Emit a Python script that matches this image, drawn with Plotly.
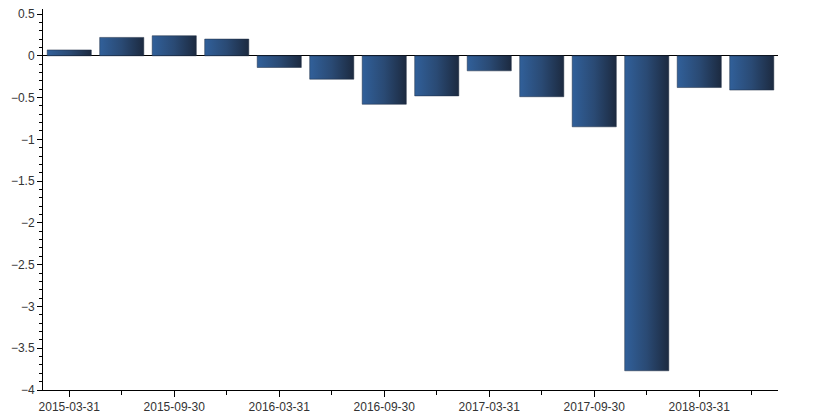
import plotly.graph_objects as go

dates = ["2015-03-31", "2015-06-30", "2015-09-30", "2015-12-31",
         "2016-03-31", "2016-06-30", "2016-09-30", "2016-12-31",
         "2017-03-31", "2017-06-30", "2017-09-30", "2017-12-31",
         "2018-03-31", "2018-06-30"]
values = [0.07, 0.22, 0.24, 0.20, -0.14, -0.28, -0.58, -0.48,
          -0.18, -0.49, -0.85, -3.77, -0.38, -0.41]

half_w = 0.42
grad = [[0, "#31609a"], [0.5, "#2a4a74"], [1, "#1c2a40"]]

fig = go.Figure()
for i, v in enumerate(values):
    xs = [i - half_w, i + half_w, i + half_w, i - half_w, i - half_w]
    ys = [0, 0, v, v, 0]
    fig.add_trace(go.Scatter(
        x=xs, y=ys, mode="lines", fill="toself",
        line=dict(width=0.5, color="#1c2a40"),
        fillgradient=dict(type="horizontal", colorscale=grad),
        hovertemplate=f"{dates[i]}: {v}<extra></extra>",
        showlegend=False,
    ))

fig.update_layout(
    width=820, height=411,
    margin=dict(l=35, r=50, t=1, b=29, autoexpand=False),
    plot_bgcolor="white", paper_bgcolor="white",
    font=dict(family="Liberation Sans, Arial, sans-serif", size=12, color="#333333"),
    showlegend=False,
)
fig.update_xaxes(
    automargin=False,
    ticklabeloverflow="allow",
    range=[-0.5, len(values) - 0.5],
    tickmode="array",
    tickvals=list(range(0, len(dates), 2)),
    ticktext=dates[::2],
    ticks="outside", ticklen=6, tickcolor="#000000",
    showline=True, linecolor="#000000", linewidth=1,
    showgrid=False, zeroline=False,
    minor=dict(tickmode="array", tickvals=list(range(1, len(dates), 2)),
               ticks="outside", ticklen=4, tickcolor="#000000", showgrid=False),
)
fig.update_yaxes(
    automargin=False,
    ticklabeloverflow="allow",
    range=[-4, 0.56],
    tickmode="linear", tick0=0, dtick=0.5,
    ticks="outside", ticklen=5, tickcolor="#000000",
    showline=True, linecolor="#000000", linewidth=1,
    showgrid=False,
    zeroline=True, zerolinecolor="#000000", zerolinewidth=1,
    minor=dict(tick0=0, dtick=0.1, ticks="outside", ticklen=3,
               tickcolor="#000000", showgrid=False),
)

fig.write_html("out.html")
